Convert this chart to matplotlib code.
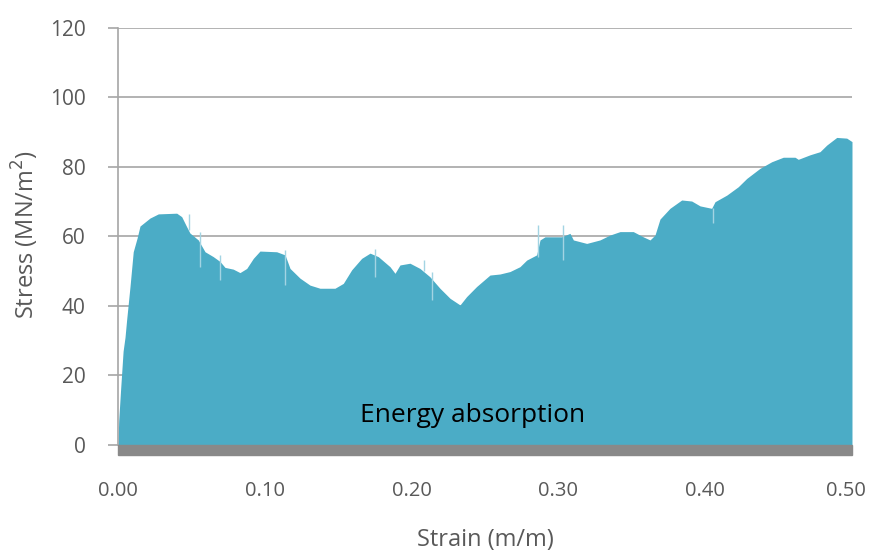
import matplotlib
matplotlib.use("Agg")
import matplotlib.pyplot as plt
from matplotlib.patches import Rectangle
from matplotlib.transforms import ScaledTranslation

# stress-strain record (strain in m/m, stress in MN/m^2)
strain = [0.0000, 0.0005, 0.0018, 0.0035, 0.0048, 0.0059, 0.0082, 0.0104, 0.0130,
          0.0150, 0.0218, 0.0275, 0.0400, 0.0434, 0.0468, 0.0490, 0.0547, 0.0593,
          0.0649, 0.0695, 0.0729, 0.0785, 0.0831, 0.0877, 0.0922, 0.0967, 0.1081,
          0.1138, 0.1172, 0.1240, 0.1308, 0.1376, 0.1478, 0.1535, 0.1592, 0.1660,
          0.1717, 0.1773, 0.1853, 0.1887, 0.1921, 0.1989, 0.2057, 0.2125, 0.2193,
          0.2262, 0.2330, 0.2375, 0.2443, 0.2534, 0.2602, 0.2670, 0.2738, 0.2784,
          0.2852, 0.2875, 0.2909, 0.3022, 0.3079, 0.3102, 0.3193, 0.3283, 0.3351,
          0.3420, 0.3510, 0.3578, 0.3624, 0.3658, 0.3692, 0.3760, 0.3840, 0.3908,
          0.3965, 0.4044, 0.4067, 0.4147, 0.4225, 0.4283, 0.4373, 0.4453, 0.4532,
          0.4612, 0.4634, 0.4714, 0.4782, 0.4828, 0.4896, 0.4964, 0.5000]
stress = [0.0, 7.0, 16.0, 27.0, 31.0, 36.0, 45.6, 55.6, 59.5,
          63.0, 65.3, 66.5, 66.7, 65.7, 62.8, 61.0, 59.0, 55.6,
          54.2, 52.8, 51.1, 50.6, 49.6, 50.8, 53.7, 55.8, 55.6,
          54.7, 50.8, 48.0, 46.0, 45.1, 45.1, 46.5, 50.4, 53.7,
          55.2, 54.2, 51.3, 49.4, 51.8, 52.3, 50.8, 48.4, 45.1,
          42.2, 40.3, 42.7, 45.6, 48.9, 49.2, 49.9, 51.3, 53.2,
          54.7, 59.0, 59.9, 59.9, 60.9, 59.0, 58.0, 59.0, 60.4,
          61.4, 61.4, 59.9, 59.0, 60.4, 65.0, 68.1, 70.5, 70.2,
          68.8, 68.1, 70.0, 71.9, 74.3, 76.7, 79.6, 81.5, 82.8,
          82.8, 82.2, 83.5, 84.4, 86.3, 88.5, 88.3, 87.3]

# short spikes / drop-outs in the signal
spike_x = [0.0483, 0.0559, 0.0695, 0.1140, 0.1750, 0.2084, 0.2136, 0.2864, 0.3030, 0.4051]
spike_lo = [62.0, 51.3, 47.5, 46.0, 48.4, 50.0, 41.7, 54.0, 53.2, 63.9]
spike_hi = [66.5, 61.4, 54.7, 56.0, 56.3, 53.2, 49.9, 63.3, 63.3, 68.1]

fill_color = "#4BACC6"
grid_color = "#A6A6A6"
text_color = "#595959"

plt.rcParams["font.family"] = ["Open Sans", "DejaVu Sans"]

fig = plt.figure(figsize=(8.7, 5.54), dpi=100)
ax = fig.add_axes([0.1356, 0.1968, 0.8437, 0.7527])

ax.fill_between(strain, stress, 0, color=fill_color, lw=0, zorder=2)
ax.vlines(spike_x, spike_lo, spike_hi, color="#A3D4E3", lw=1.0, zorder=3)

# floor band under the zero line
ax.add_patch(Rectangle((0, -0.025), 1, 0.025, transform=ax.transAxes,
                       color="#898989", clip_on=False, zorder=4))

ax.set_xlim(0, 0.5)
ax.set_ylim(0, 120)
ax.set_xticks([0.0, 0.1, 0.2, 0.3, 0.4, 0.5])
ax.set_xticklabels(["0.00", "0.10", "0.20", "0.30", "0.40", "0.50"])
ax.set_yticks([0, 20, 40, 60, 80, 100, 120])

ax.grid(axis="y", color=grid_color, lw=1.2, zorder=1)
ax.set_axisbelow(True)
for s in ["top", "right", "bottom"]:
    ax.spines[s].set_visible(False)
ax.spines["left"].set_color(grid_color)
ax.spines["left"].set_linewidth(1.2)

ax.tick_params(axis="y", length=7.2, width=1.2, color=grid_color, pad=16,
               labelsize=15, labelcolor=text_color)
ax.tick_params(axis="x", length=0, pad=26, labelsize=14.5, labelcolor=text_color)

# keep the last strain label inside the figure edge
last = ax.get_xticklabels()[-1]
last.set_transform(last.get_transform() + ScaledTranslation(-4 / 72, 0, fig.dpi_scale_trans))

fig.text(485 / 870, 1 - 540 / 554, "Strain (m/m)", fontsize=17,
         color=text_color, ha="center", va="center")
fig.text(25 / 870, 1 - 234 / 554, "Stress (MN/m$^2$)", fontsize=17,
         color=text_color, ha="center", va="center", rotation=90)

ax.text(0.2416, 8.6, "Energy absorption", fontsize=19, color="black",
        ha="center", va="center", zorder=5)

fig.savefig("out.png", dpi=100)
